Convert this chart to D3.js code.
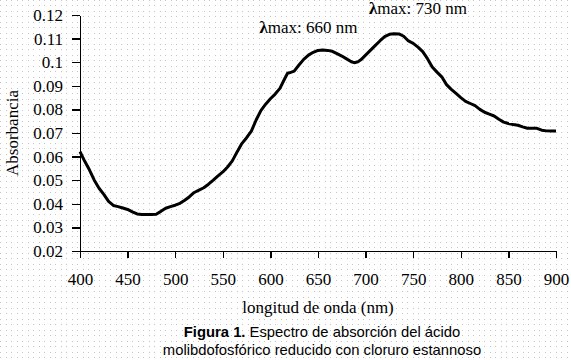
<!DOCTYPE html>
<html>
<head>
<meta charset="utf-8">
<script src="https://cdn.jsdelivr.net/npm/d3@7"></script>
<style>
  body { margin: 0; background: #fff; }
  svg { display: block; }
</style>
</head>
<body>
<div id="chart"></div>
<script>
// wavelength (nm) and absorbance
const wavelength = [400, 405, 410, 415, 420, 425, 430, 435, 440, 445, 450, 455, 460, 465, 470, 475, 480, 485, 490, 495,
  500, 505, 510, 515, 520, 525, 530, 535, 540, 545, 550, 555, 560, 565, 570, 575, 580, 585, 590, 595,
  600, 605, 610, 615, 618, 620, 625, 630, 635, 640, 645, 650, 655, 660, 665, 670, 675, 680, 685, 688,
  692, 695, 700, 705, 710, 715, 720, 725, 730, 735, 740, 745, 750, 755, 760, 765, 770, 775, 780, 785,
  790, 795, 800, 805, 810, 815, 820, 825, 830, 835, 840, 845, 850, 855, 860, 865, 870, 875, 880, 885,
  890, 895, 900];
const absorbance = [0.0621, 0.0580, 0.0543, 0.0500, 0.0466, 0.0440, 0.0410, 0.0393, 0.0388, 0.0382, 0.0376, 0.0366, 0.0357, 0.0355, 0.0355, 0.0355, 0.0356, 0.0368, 0.0381, 0.0388,
  0.0394, 0.0402, 0.0415, 0.0430, 0.0448, 0.0458, 0.0468, 0.0483, 0.0500, 0.0518, 0.0535, 0.0556, 0.0582, 0.0620, 0.0655, 0.0680, 0.0708, 0.0755, 0.0795, 0.0822,
  0.0845, 0.0865, 0.0889, 0.0930, 0.0953, 0.0955, 0.0962, 0.0988, 0.1012, 0.1030, 0.1042, 0.1050, 0.1052, 0.1050, 0.1046, 0.1036, 0.1026, 0.1014, 0.1002, 0.0998,
  0.1002, 0.1010, 0.1030, 0.1050, 0.1070, 0.1090, 0.1108, 0.1118, 0.1121, 0.1120, 0.1110, 0.1090, 0.1080, 0.1064, 0.1045, 0.1015, 0.0980, 0.0958, 0.0938, 0.0905,
  0.0885, 0.0868, 0.0850, 0.0834, 0.0825, 0.0816, 0.0800, 0.0788, 0.0780, 0.0772, 0.0758, 0.0746, 0.0740, 0.0736, 0.0733, 0.0726, 0.0720, 0.0720, 0.0720, 0.0712,
  0.0709, 0.0708, 0.0708];

const xTicks = [400, 450, 500, 550, 600, 650, 700, 750, 800, 850, 900];
const yTicks = [0.02, 0.03, 0.04, 0.05, 0.06, 0.07, 0.08, 0.09, 0.1, 0.11, 0.12];

const peakLabels = ["max: 660 nm", "max: 730 nm"];
const peakAt = [[640, 0.1124], [755, 0.1203]]; // label anchor (nm, absorbance)

const W = 571, H = 360;
const margin = { top: 15, right: 15, bottom: 109, left: 80 };
const width = W - margin.left - margin.right;
const height = H - margin.top - margin.bottom;
const serif = "'Liberation Serif', 'Times New Roman', serif";

const root = d3.select("#chart").append("svg")
  .attr("width", W)
  .attr("height", H);

// dotted paper background
const pat = root.append("defs").append("pattern")
  .attr("id", "dots")
  .attr("patternUnits", "userSpaceOnUse")
  .attr("width", 11)
  .attr("height", 11);
[[0, 0], [6, 0], [0, 5], [6, 5]].forEach(p => {
  pat.append("rect").attr("x", p[0]).attr("y", p[1]).attr("width", 1).attr("height", 1).attr("fill", "#c4c4c4");
});
root.append("rect").attr("width", W).attr("height", H).attr("fill", "#fff");
root.append("rect").attr("width", W).attr("height", H).attr("fill", "url(#dots)");

const svg = root.append("g")
  .attr("transform", `translate(${margin.left}, ${margin.top})`);

const x = d3.scaleLinear().domain([400, 900]).range([0, width]);
const y = d3.scaleLinear().domain([0.02, 0.12]).range([height, 0]);

// Y axis
const yAxis = svg.append("g")
  .call(d3.axisLeft(y).tickValues(yTicks).tickSize(8).tickSizeOuter(0).tickPadding(9)
    .tickFormat(d => String(+d.toFixed(2))));

// X axis
const xAxis = svg.append("g")
  .attr("transform", `translate(0, ${height})`)
  .call(d3.axisBottom(x).tickValues(xTicks).tickSize(7).tickSizeOuter(0).tickPadding(15));

[xAxis, yAxis].forEach(a => {
  a.selectAll("path, line").attr("stroke", "#000").attr("stroke-width", 1.3).attr("shape-rendering", "crispEdges");
  a.selectAll("text").attr("fill", "#000").style("font-family", serif).style("font-size", "17px");
});

// spectrum
const pts = wavelength.map((w, i) => [w, absorbance[i]]);
svg.append("path")
  .datum(pts)
  .attr("fill", "none")
  .attr("stroke", "#000")
  .attr("stroke-width", 3)
  .attr("stroke-linejoin", "round")
  .attr("d", d3.line().x(d => x(d[0])).y(d => y(d[1])));

// peak annotations (bold lambda + label)
const peaks = svg.selectAll(".peak")
  .data(peakLabels)
  .enter()
  .append("text")
  .attr("class", "peak")
  .attr("x", (d, i) => x(peakAt[i][0]))
  .attr("y", (d, i) => y(peakAt[i][1]))
  .attr("text-anchor", "middle")
  .style("font-family", serif)
  .style("font-size", "17px");
peaks.append("tspan").style("font-weight", "bold").text("λ");
peaks.append("tspan").text(d => d);

// axis titles
svg.append("text")
  .attr("text-anchor", "middle")
  .attr("x", width / 2)
  .attr("y", height + 62)
  .style("font-family", serif)
  .style("font-size", "17px")
  .text("longitud de onda (nm)");

svg.append("text")
  .attr("text-anchor", "middle")
  .attr("transform", `translate(${-62}, ${height / 2}) rotate(-90)`)
  .style("font-family", serif)
  .style("font-size", "17px")
  .text("Absorbancia");

// caption
const cap = root.append("text")
  .attr("text-anchor", "middle")
  .style("font-family", "'Liberation Sans', Arial, sans-serif")
  .style("font-size", "14.8px")
  .attr("fill", "#000");
const l1 = cap.append("tspan").attr("x", 322).attr("y", 337);
l1.append("tspan").style("font-weight", "bold").text("Figura 1.");
l1.append("tspan").text(" Espectro de absorción del ácido");
cap.append("tspan").attr("x", 322).attr("y", 355)
  .text("molibdofosfórico reducido con cloruro estannoso");
</script>
</body>
</html>
